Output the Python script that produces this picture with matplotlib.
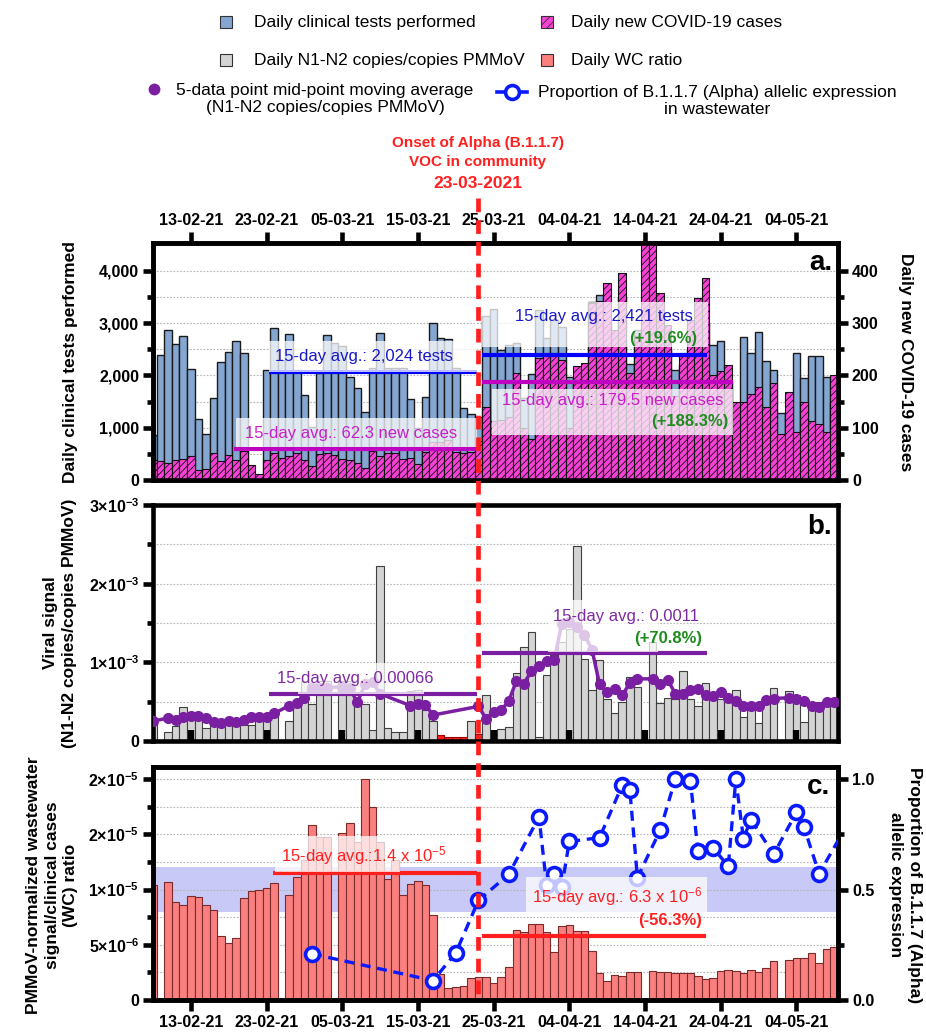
import matplotlib
matplotlib.use('Agg')
import matplotlib.pyplot as plt
import matplotlib.dates as mdates
from matplotlib.patches import Rectangle
from matplotlib.lines import Line2D
from matplotlib.ticker import FixedLocator
import numpy as np
import pandas as pd

plt.rcParams['font.family'] = ['Liberation Sans', 'DejaVu Sans']
plt.rcParams['mathtext.fontset'] = 'custom'
plt.rcParams['mathtext.rm'] = 'Liberation Sans'
plt.rcParams['mathtext.bf'] = 'Liberation Sans:bold'
plt.rcParams['mathtext.it'] = 'Liberation Sans:italic'
plt.rcParams['hatch.linewidth'] = 0.6

# ---------------- data ----------------
days = pd.date_range('2021-02-08', '2021-05-09', freq='D')

tests = [860, 2380, 2870, 2600, 2760, 2120, 1160, 870, 1560, 2260,
         2440, 2650, 2430, 0, 0, 2100, 2900, 2300, 2800, 2100,
         1630, 1020, 2040, 2765, 2620, 2570, 1970, 1760, 1300, 2150,
         2810, 2140, 2140, 2140, 1550, 990, 1580, 3000, 2710, 2700,
         2140, 1370, 1270, 1200, 3130, 3270, 2490, 2580, 2620, 1565,
         2020, 3240, 2710, 3050, 2920, 1960, 1900, 2100, 3400, 3540,
         3000, 2800, 3500, 2216, 2870, 2500, 2500, 2300, 2500, 2110,
         2200, 2500, 2800, 3000, 2580, 2656, 1900, 1200, 2740, 2427,
         2829, 2280, 2100, 1290, 1300, 2427, 1948, 2363, 2363, 1973,
         1500]

cases = [38, 37, 33, 38, 40, 45, 19, 21, 51, 36,
         48, 38, 56, 28, 11, 38, 52, 43, 45, 52,
         38, 27, 49, 51, 48, 41, 38, 33, 22, 55,
         45, 52, 51, 41, 43, 30, 54, 73, 72, 77,
         54, 52, 54, 75, 140, 112, 115, 120, 204, 100,
         78, 233, 243, 243, 230, 100, 218, 223, 338, 342,
         377, 287, 396, 204, 275, 460, 458, 358, 297, 160,
         243, 306, 348, 386, 201, 209, 220, 149, 149, 164,
         177, 140, 185, 87, 169, 91, 149, 112, 107, 91,
         201]

# N1-N2 copies / copies PMMoV, in units of 1e-3
n1n2 = [0.225, 0, 0.12, 0.19, 0.43, 0.35, 0.35, 0.17, 0.22, 0.22,
        0.22, 0.22, 0.2, 0.2, 0.31, 0.25, 0.33, 0, 0.26, 0.48,
        0.76, 0.47, 0.76, 0.76, 0, 0.76, 0.76, 0.5, 0.47, 0.14,
        2.22, 0.16, 0.11, 0.12, 0.64, 0.65, 0.4, 0.26, 0.077, 0.055,
        0.055, 0.055, 0.26, 0.085, 0.59, 0, 0.15, 0.18, 0.86, 1.2,
        1.38, 0.05, 0.84, 1.09, 1.26, 1.43, 2.48, 1.04, 0.65, 1.03,
        0.54, 0.36, 0.49, 0.81, 0.69, 0, 1.26, 0.48, 0.55, 0.54,
        0.89, 0.54, 0.45, 0.74, 0.55, 0.53, 0.49, 0.65, 0.31, 0.4,
        0.23, 0.49, 0.68, 0, 0.63, 0.58, 0.24, 0.45, 0.49, 0.49,
        0.44]
n1n2_red_days = ['2021-03-18', '2021-03-19', '2021-03-20', '2021-03-21', '2021-03-23']

nan = np.nan
n1n2_ma = [0.255, nan, 0.29, 0.27, 0.31, 0.32, 0.32, 0.29, 0.247, 0.225,
           0.255, 0.247, 0.268, 0.30, 0.31, 0.31, 0.35, nan, 0.45, 0.48,
           0.55, 0.68, 0.68, 0.68, nan, 0.69, 0.67, 0.49, 0.72, 0.75,
           0.6, nan, nan, nan, 0.45, 0.47, 0.46, 0.33, nan, nan,
           nan, nan, nan, 0.44, 0.285, 0.37, 0.39, 0.51, 0.76, 0.73,
           0.89, 0.95, 1.02, 1.03, 1.49, 1.51, 1.45, 1.35, 1.16, 0.72,
           0.62, 0.66, 0.58, 0.74, 0.79, nan, 0.79, 0.72, 0.78, 0.6,
           0.6, 0.65, 0.66, 0.58, 0.57, 0.62, 0.55, 0.51, 0.44, 0.44,
           0.44, 0.52, 0.54, nan, 0.55, 0.54, 0.51, 0.45, 0.43, 0.5,
           0.49]

# WC ratio, in units of 1e-5
wc = [1.044, 0, 1.068, 0.89, 0.862, 0.944, 0.935, 0.862, 0.814, 0.58,
      0.517, 0.56, 0.926, 0.986, 0.998, 1.017, 1.062, 0, 0.953, 1.117,
      1.265, 1.582, 1.477, 1.477, 0, 1.516, 1.607, 1.43, 2.0, 1.749,
      1.43, 1.092, 1.265, 0.953, 1.053, 1.077, 1.044, 0.766, 0.236, 0.109,
      0.121, 0.127, 0.203, 0.21, 0.21, 0.154, 0.209, 0.303, 0.635, 0.614,
      0.684, 0.684, 0.614, 0.439, 0.669, 0.678, 0.626, 0.623, 0.442, 0.242,
      0.175, 0.227, 0.221, 0.251, 0.251, 0, 0.263, 0.251, 0.257, 0.248,
      0.248, 0.248, 0.221, 0.194, 0.203, 0.263, 0.269, 0.266, 0.242, 0.272,
      0.257, 0.29, 0.354, 0, 0.363, 0.378, 0.384, 0.427, 0.339, 0.463,
      0.484]

alpha_dates = ['2021-03-01', '2021-03-17', '2021-03-20', '2021-03-23', '2021-03-27',
               '2021-03-31', '2021-04-01', '2021-04-02', '2021-04-03', '2021-04-04',
               '2021-04-08', '2021-04-11', '2021-04-12', '2021-04-13', '2021-04-16',
               '2021-04-18', '2021-04-20', '2021-04-21', '2021-04-23', '2021-04-25',
               '2021-04-26', '2021-04-27', '2021-04-28', '2021-05-01', '2021-05-04',
               '2021-05-05', '2021-05-07', '2021-05-11']
alpha_prop = [0.209, 0.088, 0.213, 0.451, 0.569,
              0.829, 0.52, 0.57, 0.51, 0.718,
              0.735, 0.973, 0.95, 0.554, 0.768,
              1.0, 0.991, 0.675, 0.69, 0.605,
              1.0, 0.731, 0.817, 0.66, 0.849,
              0.784, 0.572, 0.81]

alpha_band = (0.4, 0.6)
onset = '2021-03-23'

# 15-day average lines (levels as drawn) and their spans
tests_avg_line = [2070, 2380]
tests_avg_span = [('2021-02-23 07:00', '2021-03-22 19:00'), ('2021-03-23 12:00', '2021-04-22 05:00')]
cases_avg_line = [59, 188]
cases_avg_span = [('2021-02-18 17:00', '2021-03-22 19:00'), ('2021-03-23 12:00', '2021-04-25 14:00')]
n1n2_avg_line = [0.6, 1.12]
n1n2_avg_span = [('2021-02-23 07:00', '2021-03-22 19:00'), ('2021-03-23 12:00', '2021-04-22 05:00')]
wc_avg_line = [1.15, 0.58]
wc_avg_span = [('2021-02-23 20:00', '2021-03-22 19:00'), ('2021-03-23 12:00', '2021-04-22 00:00')]

date_ticks = pd.date_range('2021-02-13', '2021-05-04', freq='10D')
date_labels = [d.strftime('%d-%m-%y') for d in date_ticks]

# ---------------- figure ----------------
W, H = 926, 1032
fig = plt.figure(figsize=(W / 100, H / 100), dpi=100)


def fx(x):
    return x / W


def fy(y):
    return 1 - y / H


def add_ax(top, bottom):
    return fig.add_axes([fx(153), fy(bottom), (838 - 153) / W, (bottom - top) / H])


BLUE_BAR = '#84a6d0'
PINK = '#f640d6'
GRAY = '#d4d4d4'
RED_BAR = '#fa8080'
PURPLE = '#7b1fa2'
LINE_BLUE = '#0a1aff'
GREEN = '#1e8c1e'
RED = '#ff1f1f'
SPW = 3.3
HATCH = '/////'

xlim = (pd.Timestamp('2021-02-08'), pd.Timestamp('2021-05-09 12:00'))


def style(ax):
    for s in ax.spines.values():
        s.set_linewidth(SPW)
    ax.tick_params(which='major', length=7, width=SPW, labelsize=11.5, pad=3)
    ax.tick_params(which='minor', length=4.5, width=SPW)
    ax.set_xlim(*xlim)


def grid(ax, levels):
    for g in levels:
        ax.axhline(g, color='#b5b5b5', lw=0.8, ls=(0, (1.5, 1.5)), zorder=0.4)


# ---- panel a ----
ax_a = add_ax(243, 480)
ax_a2 = ax_a.twinx()
ax_a.bar(days, tests, width=1.0, color=BLUE_BAR, edgecolor='#1a1a1a', lw=1.0, zorder=1)
ax_a2.bar(days, cases, width=1.0, color=PINK, edgecolor='#111111', lw=0.8, hatch=HATCH, zorder=1)
grid(ax_a, np.arange(500, 4501, 500))
ax_a.set_ylim(0, 4530)
ax_a2.set_ylim(0, 453)
for ax in (ax_a, ax_a2):
    style(ax)
ax_a.set_yticks([0, 1000, 2000, 3000, 4000], labels=['0', '1,000', '2,000', '3,000', '4,000'], fontweight='bold')
ax_a.yaxis.set_minor_locator(FixedLocator([500, 1500, 2500, 3500]))
ax_a2.set_yticks([0, 100, 200, 300, 400], labels=['0', '100', '200', '300', '400'], fontweight='bold')
ax_a2.yaxis.set_minor_locator(FixedLocator([50, 150, 250, 350]))
ax_a.set_xticks(date_ticks, labels=date_labels, fontweight='bold')
ax_a.tick_params(axis='x', which='both', top=True, bottom=False, labeltop=True, labelbottom=False,
                 direction='out', length=8)
ax_a2.tick_params(axis='x', which='both', top=False, bottom=False, labeltop=False, labelbottom=False)
for lvl, (s, e) in zip(tests_avg_line, tests_avg_span):
    ax_a2.hlines(lvl / 10, pd.Timestamp(s), pd.Timestamp(e), color='#0000ff', lw=3, zorder=5)
for lvl, (s, e) in zip(cases_avg_line, cases_avg_span):
    ax_a2.hlines(lvl, pd.Timestamp(s), pd.Timestamp(e), color='#c000c0', lw=3, zorder=5)

# ---- panel b ----
ax_b = add_ax(505, 741)
red_set = set(pd.to_datetime(n1n2_red_days))
b_cols = [RED if d in red_set else GRAY for d in days]
b_edges = ['#a00000' if d in red_set else '#404040' for d in days]
ax_b.bar(days, np.array(n1n2) * 1e-3, width=1.0, color=b_cols, edgecolor=b_edges, lw=0.8, zorder=1)
grid(ax_b, np.arange(0.5e-3, 2.6e-3, 0.5e-3))
ma = np.array(n1n2_ma)
ok = ~np.isnan(ma)
ax_b.plot(days[ok], ma[ok] * 1e-3, color=PURPLE, lw=2.5, marker='o', ms=7, zorder=3)
for lvl, (s, e) in zip(n1n2_avg_line, n1n2_avg_span):
    ax_b.hlines(lvl * 1e-3, pd.Timestamp(s), pd.Timestamp(e), color=PURPLE, lw=3, zorder=5)
ax_b.set_ylim(0, 3e-3)
style(ax_b)
ax_b.set_yticks([0, 1e-3, 2e-3, 3e-3],
                labels=['0', r'$\mathbf{1{\times}10^{-3}}$', r'$\mathbf{2{\times}10^{-3}}$', r'$\mathbf{3{\times}10^{-3}}$'],
                fontweight='bold')
ax_b.yaxis.set_minor_locator(FixedLocator([0.5e-3, 1.5e-3, 2.5e-3]))
ax_b.set_xticks(date_ticks, labels=[''] * len(date_ticks))
ax_b.tick_params(axis='x', which='major', direction='in', length=8, width=4.5, top=False, bottom=True)

# ---- panel c ----
ax_c = add_ax(767, 1000)
ax_c2 = ax_c.twinx()
c_top = 2.11
ax_c.set_ylim(0, c_top * 1e-5)
ax_c2.set_ylim(0, c_top / 2.0)
scale = 2e-5
ax_c.axhspan(alpha_band[0] * scale, alpha_band[1] * scale, color='#c9c9f7', lw=0, zorder=0.3)
grid(ax_c, np.arange(0.25e-5, 2.01e-5, 0.25e-5))
ax_c.bar(days, np.array(wc) * 1e-5, width=1.0, color=RED_BAR, edgecolor='#7a2a2a', lw=0.8, zorder=1)
for lvl, (s, e) in zip(wc_avg_line, wc_avg_span):
    ax_c.hlines(lvl * 1e-5, pd.Timestamp(s), pd.Timestamp(e), color=RED, lw=3, zorder=5)
ax_c2.plot(pd.to_datetime(alpha_dates), alpha_prop, color=LINE_BLUE, lw=2.4, ls=(0, (3, 2)),
           marker='o', ms=10, mfc='white', mec=LINE_BLUE, mew=2.6, zorder=3)
for ax in (ax_c, ax_c2):
    style(ax)
ax_c.set_yticks([0, 0.5e-5, 1e-5, 1.5e-5, 2e-5],
                labels=['0', r'$\mathbf{5{\times}10^{-6}}$', r'$\mathbf{1{\times}10^{-5}}$',
                        r'$\mathbf{2{\times}10^{-5}}$', r'$\mathbf{2{\times}10^{-5}}$'],
                fontweight='bold')
ax_c.yaxis.set_minor_locator(FixedLocator([0.25e-5, 0.75e-5, 1.25e-5, 1.75e-5]))
ax_c2.set_yticks([0, 0.5, 1.0], labels=['0.0', '0.5', '1.0'], fontweight='bold')
ax_c2.yaxis.set_minor_locator(FixedLocator([0.25, 0.75]))
ax_c.set_xticks(date_ticks, labels=date_labels, fontweight='bold')
ax_c.tick_params(axis='x', which='major', direction='out', length=8, top=False, bottom=True)
ax_c2.tick_params(axis='x', which='both', top=False, bottom=False, labeltop=False, labelbottom=False)

# ---- onset line across panels ----
xo = ax_a.transData.transform((mdates.date2num(pd.Timestamp(onset)), 0))[0]
xo_f = fig.transFigure.inverted().transform((xo, 0))[0]
fig.add_artist(Line2D([xo_f, xo_f], [fy(198), fy(1000)], color=RED, lw=3.4,
                      ls=(0, (2.9, 1.7)), transform=fig.transFigure, zorder=6))


# ---- annotation boxes and texts ----
def box(x0, x1, y0, y1):
    fig.add_artist(Rectangle((fx(x0), fy(y1)), (x1 - x0) / W, (y1 - y0) / H, transform=fig.transFigure,
                             facecolor='white', edgecolor='none', alpha=0.75, zorder=2.5))


def txt(x, y, s, ha='center', **kw):
    kw.setdefault('fontsize', 12)
    fig.text(fx(x), fy(y), s, ha=ha, va='center', zorder=3, **kw)


box(269, 477, 341, 372)
txt(364, 356, '15-day avg.: 2,024 tests', color='#1818c8')
box(236, 477, 418, 447)
txt(351, 433, '15-day avg.: 62.3 new cases', color='#c81ec8')
box(482, 708, 302, 347)
txt(604, 317, '15-day avg.: 2,421 tests', color='#1818c8')
txt(697, 338, '(+19.6%)', ha='right', color=GREEN, fontweight='bold')
box(492, 733, 389, 435)
txt(613, 400, '15-day avg.: 179.5 new cases', color='#c81ec8')
txt(728, 421, '(+188.3%)', ha='right', color=GREEN, fontweight='bold')

box(298, 424, 663, 694)
txt(355, 678, '15-day avg.: 0.00066', color='#7e2aa0')
box(548, 658, 600, 652)
txt(626, 617, '15-day avg.: 0.0011', color='#7e2aa0')
txt(702, 638, '(+70.8%)', ha='right', color=GREEN, fontweight='bold')

box(275, 400, 836, 872)
txt(364, 856, r'15-day avg.:1.4 x 10$^{-5}$', color=RED)
box(526, 707, 877, 913)
txt(617, 897, r'15-day avg.: 6.3 x 10$^{-6}$', color=RED)
txt(702, 920, '(-56.3%)', ha='right', color=RED, fontweight='bold')

# panel letters
txt(832, 263, 'a.', ha='right', fontsize=20, fontweight='bold')
txt(832, 527, 'b.', ha='right', fontsize=20, fontweight='bold')
txt(830, 787, 'c.', ha='right', fontsize=20, fontweight='bold')

# axis titles
txt(70, 362, 'Daily clinical tests performed', rotation=90, fontsize=12.5, fontweight='bold')
txt(906, 362, 'Daily new COVID-19 cases', rotation=270, fontsize=12.5, fontweight='bold')
txt(60, 623, 'Viral signal\n(N1-N2 copies/copies PMMoV)', rotation=90, fontsize=12.5,
    fontweight='bold', linespacing=1.3)
txt(52, 885, 'PMMoV-normalized wastewater\nsignal/clinical cases\n(WC) ratio', rotation=90,
    fontsize=12.5, fontweight='bold', linespacing=1.3)
txt(905, 885, 'Proportion of B.1.1.7 (Alpha)\nallelic expression', rotation=270, fontsize=12.5,
    fontweight='bold', linespacing=1.3)

# onset annotation
txt(478, 143, 'Onset of Alpha (B.1.1.7)', color=RED, fontsize=11, fontweight='bold')
txt(478, 162, 'VOC in community', color=RED, fontsize=11, fontweight='bold')
txt(478, 183, '23-03-2021', color=RED, fontsize=12.5, fontweight='bold')


# ---- legend ----
def legend_square(xc, yc, color, hatch=None):
    fig.add_artist(Rectangle((fx(xc - 6), fy(yc + 6)), 12 / W, 12 / H, transform=fig.transFigure,
                             facecolor=color, edgecolor='#333333', lw=0.8, hatch=hatch, zorder=3))


legend_square(226, 22, BLUE_BAR)
txt(254, 22, 'Daily clinical tests performed', ha='left', fontsize=12.5)
legend_square(547, 22, PINK, hatch='////')
txt(571, 22, 'Daily new COVID-19 cases', ha='left', fontsize=12.5)
legend_square(226, 60, GRAY)
txt(254, 60, 'Daily N1-N2 copies/copies PMMoV', ha='left', fontsize=12.5)
legend_square(547, 60, RED_BAR)
txt(571, 60, 'Daily WC ratio', ha='left', fontsize=12.5)
fig.add_artist(Line2D([fx(154)], [fy(89)], marker='o', ms=7.5, color=PURPLE, lw=0,
                      transform=fig.transFigure, zorder=3))
txt(325, 99, '5-data point mid-point moving average\n(N1-N2 copies/copies PMMoV)', fontsize=12.5,
    multialignment='center', linespacing=1.15)
fig.add_artist(Line2D([fx(497), fx(527)], [fy(92), fy(92)], color=LINE_BLUE, lw=2.6,
                      transform=fig.transFigure, zorder=3))
fig.add_artist(Line2D([fx(512)], [fy(92)], marker='o', ms=10, mfc='white', mec=LINE_BLUE, mew=2.6,
                      lw=0, transform=fig.transFigure, zorder=3))
txt(717, 101, 'Proportion of B.1.1.7 (Alpha) allelic expression\nin wastewater', fontsize=12.5,
    multialignment='center', linespacing=1.15)

fig.savefig('out.png', dpi=100)
